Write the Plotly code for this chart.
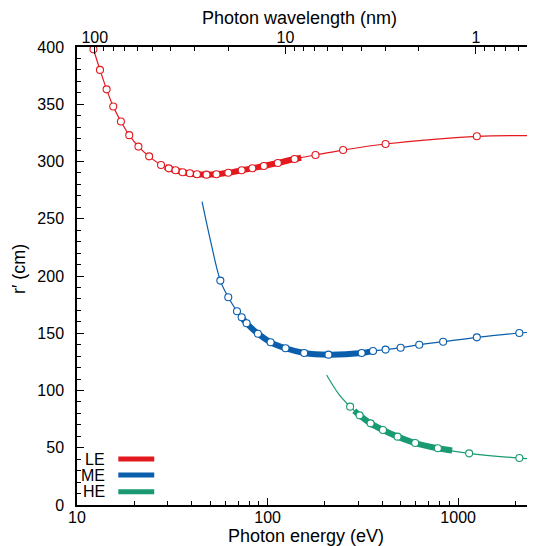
import numpy as np
import plotly.graph_objects as go

SERIES_NAMES = ["LE", "ME", "HE"]
COLORS = ["#e3191f", "#0a5eac", "#1a9a72"]

# --- LE: measured points and fitted curve ---
LE_E = [12.2, 13.2, 14.3, 15.5, 17.0, 18.8, 21.0, 23.9, 27.6, 30.3, 32.9, 35.8, 39.1,
        42.6, 47.8, 53.9, 62.2, 73.1, 83.2, 95.6, 113.2, 138.5, 178.4, 249, 416, 1253]
LE_R = [398, 380, 363, 348, 335, 323, 313, 304.5, 297, 294, 292.3, 290.6, 289.7,
        288.8, 288.5, 288.8, 290.2, 292.3, 294.1, 296.1, 298.7, 302.2, 305.7, 310, 315.3, 322]
LE_CURVE_E = LE_E + [2500]
LE_CURVE_R = LE_R + [322.6]
LE_BAND_E = [29, 30.3, 32.9, 35.8, 39.1, 42.6, 47.8, 53.9, 62.2, 73.1, 83.2, 95.6, 113.2, 138.5, 150]
LE_BAND_R = [295.3, 294, 292.3, 290.6, 289.7, 288.8, 288.5, 288.8, 290.2, 292.3, 294.1, 296.1, 298.7, 302.2, 303.3]

# --- ME ---
ME_E = [56.5, 62.2, 69.1, 73.1, 77.6, 89.0, 103.7, 124.2, 155.6, 208.6, 311.6, 357.5,
        416, 499, 625, 834, 1253, 2094]
ME_R = [196, 181.4, 169.2, 164, 158.7, 149.6, 142.1, 136.9, 132.8, 131.3, 132.8, 134.5,
        135.7, 137.4, 140, 142.6, 146.4, 150.2]
ME_CURVE_E = [45.3, 50.1] + ME_E + [2500]
ME_CURVE_R = [265, 231.4] + ME_R + [151]
ME_BAND_E = [74, 77.6, 89.0, 103.7, 124.2, 155.6, 208.6, 311.6, 350]
ME_BAND_R = [162.8, 158.7, 149.6, 142.1, 136.9, 132.8, 131.3, 132.8, 134.2]

# --- HE ---
HE_E = [271, 304, 347, 403, 481, 595, 783, 1142, 2094]
HE_R = [85.9, 78.3, 71.3, 65.5, 59.7, 54.1, 49.5, 45.1, 41.0]
HE_CURVE_E = [204, 238] + HE_E + [2500]
HE_CURVE_R = [113.5, 96.1] + HE_R + [40.2]
HE_BAND_E = [285, 304, 347, 403, 481, 595, 783, 930]
HE_BAND_R = [82.3, 78.3, 71.3, 65.5, 59.7, 54.1, 49.5, 47.6]

X_TICKS = [10, 100, 1000]
X_MINOR = [20, 30, 40, 50, 60, 70, 80, 90, 200, 300, 400, 500, 600, 700, 800, 900, 2000]
WL_TICKS = [100, 10, 1]
WL_MINOR = [90, 80, 70, 60, 50, 40, 30, 20, 9, 8, 7, 6, 5, 4, 3, 2, 0.9, 0.8, 0.7, 0.6, 0.5]
HC = 1239.84  # eV*nm
E_MIN, E_MAX = 10, 2500

FONT = "Liberation Sans, Arial, Helvetica, sans-serif"

series = [
    (LE_E, LE_R, LE_CURVE_E, LE_CURVE_R, LE_BAND_E, LE_BAND_R),
    (ME_E, ME_R, ME_CURVE_E, ME_CURVE_R, ME_BAND_E, ME_BAND_R),
    (HE_E, HE_R, HE_CURVE_E, HE_CURVE_R, HE_BAND_E, HE_BAND_R),
]

fig = go.Figure()
for name, color, (e, r, ce, cr, be, br) in zip(SERIES_NAMES, COLORS, series):
    fig.add_trace(go.Scatter(x=ce, y=cr, mode="lines", line=dict(color=color, width=1.2, shape="spline", smoothing=1.0),
                             showlegend=False, hoverinfo="skip"))
    fig.add_trace(go.Scatter(x=be, y=br, mode="lines", line=dict(color=color, width=6, shape="spline", smoothing=1.0),
                             showlegend=False, hoverinfo="skip"))
    fig.add_trace(go.Scatter(x=e, y=r, mode="markers", name=name, cliponaxis=False,
                             marker=dict(symbol="circle", size=7, color="white", line=dict(color=color, width=1.1)),
                             showlegend=False))

# dummy trace to create top wavelength axis
fig.add_trace(go.Scatter(x=[HC / E_MIN], y=[0], xaxis="x2", mode="markers", marker=dict(opacity=0),
                         showlegend=False, hoverinfo="skip"))

axis_common = dict(showline=True, linecolor="black", linewidth=1.5, ticks="inside", ticklen=7, tickwidth=1.2,
                   tickcolor="black", showgrid=False, zeroline=False, automargin=False,
                   tickfont=dict(family=FONT, size=16, color="black"))

# the page body adds an 8px offset, so the figure is sized to fill the remaining window
fig.update_layout(
    width=527, height=538,
    margin=dict(l=69, r=1, t=39, b=41, autoexpand=False),
    plot_bgcolor="white", paper_bgcolor="white",
    showlegend=False,
    xaxis=dict(type="log", range=[np.log10(E_MIN), np.log10(E_MAX)], tickvals=X_TICKS,
               ticktext=[str(v) for v in X_TICKS], side="bottom", ticklabelstandoff=-3,
               minor=dict(tickvals=X_MINOR, ticks="inside", ticklen=4, tickwidth=1, tickcolor="black"),
               **axis_common),
    xaxis2=dict(type="log", overlaying="x", side="top", anchor="y",
                range=[np.log10(HC / E_MIN), np.log10(HC / E_MAX)], tickvals=WL_TICKS,
                ticktext=[str(v) for v in WL_TICKS], ticklabelstandoff=-4,
                minor=dict(tickvals=WL_MINOR, ticks="inside", ticklen=4, tickwidth=1, tickcolor="black"),
                **axis_common),
    yaxis=dict(range=[0, 400], tick0=0, dtick=50, mirror="ticks", ticklabelstandoff=8,
               minor=dict(dtick=10, ticks="inside", ticklen=4, tickwidth=1, tickcolor="black"),
               **axis_common),
)

# axis titles
fig.add_annotation(text="Photon energy (eV)", xref="paper", yref="paper", x=0.501, y=-0.068,
                   xanchor="center", yanchor="middle", showarrow=False, font=dict(family=FONT, size=18, color="black"))
fig.add_annotation(text="Photon wavelength (nm)", xref="paper", yref="paper", x=0.486, y=1.064,
                   xanchor="center", yanchor="middle", showarrow=False, font=dict(family=FONT, size=18, color="black"))
fig.add_annotation(text="r′ (cm)", xref="paper", yref="paper", x=-0.127, y=0.515, textangle=-90,
                   xanchor="center", yanchor="middle", showarrow=False, font=dict(family=FONT, size=18, color="black"))

# legend (text left, line sample right)
leg_y = [0.1004, 0.0655, 0.029]
for name, color, yy in zip(SERIES_NAMES, COLORS, leg_y):
    fig.add_annotation(text=name, xref="paper", yref="paper", x=0.0663, y=yy, xanchor="right", yanchor="middle",
                       showarrow=False, font=dict(family=FONT, size=16, color="black"))
    fig.add_shape(type="line", xref="paper", yref="paper", x0=0.0904, x1=0.169, y0=yy, y1=yy,
                  line=dict(color=color, width=5))

fig.write_html("out.html")
